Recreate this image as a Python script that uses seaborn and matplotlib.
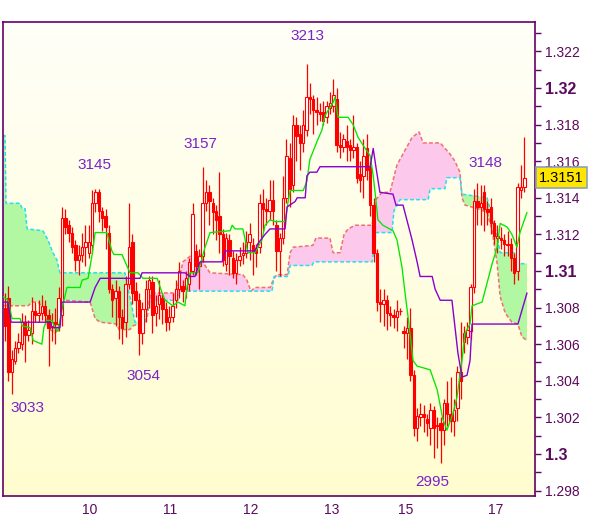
import numpy as np
import seaborn as sns
import matplotlib.pyplot as plt
from matplotlib.colors import LinearSegmentedColormap

sns.set_style("white")
plt.rcParams['font.family'] = ['Liberation Sans', 'DejaVu Sans']

# ---- hourly candles (index 0..155) -------------------------------------------
opens = [1.3080, 1.3085, 1.3045, 1.3051, 1.3058, 1.3060, 1.3072, 1.3065, 1.3066, 1.3078,
         1.3076, 1.3077, 1.3081, 1.3076, 1.3070, 1.3072, 1.3071, 1.3076, 1.3129, 1.3125,
         1.3121, 1.3114, 1.3106, 1.3109, 1.3113, 1.3110, 1.3114, 1.3137, 1.3143, 1.3133,
         1.3130, 1.3121, 1.3090, 1.3085, 1.3089, 1.3075, 1.3072, 1.3093, 1.3116, 1.3089,
         1.3084, 1.3066, 1.3079, 1.3090, 1.3094, 1.3077, 1.3082, 1.3085, 1.3079, 1.3072,
         1.3075, 1.3084, 1.3090, 1.3092, 1.3090, 1.3093, 1.3100, 1.3111, 1.3103, 1.3108,
         1.3137, 1.3143, 1.3137, 1.3133, 1.3130, 1.3120, 1.3104, 1.3117, 1.3107, 1.3099,
         1.3106, 1.3109, 1.3110, 1.3116, 1.3114, 1.3112, 1.3113, 1.3137, 1.3134, 1.3133,
         1.3139, 1.3125, 1.3111, 1.3118, 1.3140, 1.3162, 1.3147, 1.3180, 1.3175, 1.3170,
         1.3177, 1.3195, 1.3194, 1.3188, 1.3187, 1.3187, 1.3184, 1.3189, 1.3190, 1.3194,
         1.3169, 1.3168, 1.3171, 1.3169, 1.3166, 1.3168, 1.3153, 1.3152, 1.3167, 1.3157,
         1.3136, 1.3110, 1.3083, 1.3082, 1.3084, 1.3077, 1.3076, 1.3075, 1.3078, 1.3067,
         1.3066, 1.3069, 1.3043, 1.3014, 1.3020, 1.3022, 1.3019, 1.3014, 1.3024, 1.3016,
         1.3017, 1.3013, 1.3028, 1.3022, 1.3018, 1.3025, 1.3045, 1.3061, 1.3064, 1.3067,
         1.3091, 1.3138, 1.3135, 1.3143, 1.3134, 1.3135, 1.3126, 1.3118, 1.3118, 1.3117,
         1.3115, 1.3115, 1.3107, 1.3100, 1.3144, 1.3146]
highs = [1.3088, 1.3092, 1.3057, 1.3062, 1.3066, 1.3077, 1.3076, 1.3073, 1.3086, 1.3083,
         1.3084, 1.3087, 1.3084, 1.3079, 1.3077, 1.3080, 1.3091, 1.3135, 1.3134, 1.3128,
         1.3124, 1.3117, 1.3114, 1.3121, 1.3125, 1.3125, 1.3144, 1.3145, 1.3145, 1.3135,
         1.3134, 1.3125, 1.3093, 1.3095, 1.3092, 1.3079, 1.3097, 1.3137, 1.3120, 1.3094,
         1.3088, 1.3083, 1.3095, 1.3097, 1.3097, 1.3087, 1.3095, 1.3088, 1.3083, 1.3081,
         1.3088, 1.3095, 1.3105, 1.3095, 1.3100, 1.3107, 1.3137, 1.3115, 1.3112, 1.3157,
         1.3150, 1.3147, 1.3140, 1.3136, 1.3154, 1.3123, 1.3121, 1.3120, 1.3111, 1.3110,
         1.3113, 1.3116, 1.3122, 1.3126, 1.3118, 1.3115, 1.3142, 1.3145, 1.3140, 1.3150,
         1.3150, 1.3128, 1.3121, 1.3152, 1.3172, 1.3170, 1.3185, 1.3184, 1.3180, 1.3188,
         1.3213, 1.3203, 1.3196, 1.3195, 1.3192, 1.3193, 1.3193, 1.3198, 1.3205, 1.3200,
         1.3176, 1.3175, 1.3180, 1.3172, 1.3185, 1.3170, 1.3160, 1.3172, 1.3175, 1.3160,
         1.3140, 1.3112, 1.3090, 1.3090, 1.3087, 1.3081, 1.3079, 1.3084, 1.3080, 1.3070,
         1.3075, 1.3080, 1.3046, 1.3025, 1.3028, 1.3027, 1.3022, 1.3028, 1.3026, 1.3020,
         1.3020, 1.3030, 1.3040, 1.3042, 1.3030, 1.3048, 1.3072, 1.3070, 1.3072, 1.3093,
         1.3145, 1.3148, 1.3147, 1.3147, 1.3138, 1.3140, 1.3128, 1.3125, 1.3124, 1.3120,
         1.3122, 1.3118, 1.3110, 1.3148, 1.3158, 1.3173]
lows = [1.3062, 1.3040, 1.3033, 1.3049, 1.3055, 1.3057, 1.3050, 1.3062, 1.3060, 1.3072,
        1.3072, 1.3073, 1.3071, 1.3048, 1.3062, 1.3060, 1.3067, 1.3070, 1.3120, 1.3116,
        1.3110, 1.3100, 1.3098, 1.3105, 1.3103, 1.3107, 1.3110, 1.3132, 1.3127, 1.3122,
        1.3112, 1.3088, 1.3075, 1.3070, 1.3063, 1.3060, 1.3064, 1.3090, 1.3082, 1.3075,
        1.3054, 1.3060, 1.3072, 1.3080, 1.3066, 1.3070, 1.3074, 1.3071, 1.3067, 1.3068,
        1.3072, 1.3080, 1.3085, 1.3083, 1.3085, 1.3089, 1.3098, 1.3098, 1.3090, 1.3105,
        1.3133, 1.3125, 1.3120, 1.3117, 1.3110, 1.3103, 1.3100, 1.3098, 1.3096, 1.3093,
        1.3103, 1.3104, 1.3107, 1.3106, 1.3098, 1.3102, 1.3110, 1.3122, 1.3125, 1.3128,
        1.3125, 1.3100, 1.3097, 1.3115, 1.3137, 1.3135, 1.3143, 1.3160, 1.3155, 1.3165,
        1.3174, 1.3186, 1.3175, 1.3180, 1.3182, 1.3180, 1.3181, 1.3186, 1.3187, 1.3165,
        1.3162, 1.3165, 1.3160, 1.3160, 1.3162, 1.3148, 1.3143, 1.3140, 1.3150, 1.3130,
        1.3105, 1.3078, 1.3072, 1.3070, 1.3068, 1.3070, 1.3069, 1.3067, 1.3076, 1.3058,
        1.3052, 1.3040, 1.3010, 1.3007, 1.3015, 1.3012, 1.3010, 1.3005, 1.2998, 1.3003,
        1.2995, 1.3005, 1.3015, 1.3012, 1.3010, 1.3018, 1.3030, 1.3055, 1.3060, 1.3063,
        1.3088, 1.3125, 1.3125, 1.3122, 1.3125, 1.3120, 1.3115, 1.3110, 1.3112, 1.3108,
        1.3108, 1.3100, 1.3093, 1.3095, 1.3140, 1.3143]
closes = [1.3070, 1.3045, 1.3052, 1.3058, 1.3061, 1.3072, 1.3065, 1.3068, 1.3078, 1.3076,
          1.3077, 1.3081, 1.3076, 1.3069, 1.3072, 1.3071, 1.3085, 1.3129, 1.3124, 1.3121,
          1.3113, 1.3106, 1.3109, 1.3113, 1.3116, 1.3116, 1.3137, 1.3143, 1.3133, 1.3129,
          1.3124, 1.3090, 1.3084, 1.3089, 1.3075, 1.3069, 1.3093, 1.3113, 1.3088, 1.3084,
          1.3066, 1.3079, 1.3090, 1.3095, 1.3076, 1.3081, 1.3087, 1.3079, 1.3072, 1.3075,
          1.3081, 1.3090, 1.3100, 1.3089, 1.3096, 1.3105, 1.3131, 1.3103, 1.3108, 1.3137,
          1.3143, 1.3138, 1.3132, 1.3128, 1.3120, 1.3106, 1.3118, 1.3108, 1.3099, 1.3106,
          1.3108, 1.3110, 1.3116, 1.3120, 1.3111, 1.3110, 1.3137, 1.3134, 1.3133, 1.3139,
          1.3133, 1.3111, 1.3118, 1.3140, 1.3163, 1.3145, 1.3180, 1.3174, 1.3170, 1.3180,
          1.3195, 1.3194, 1.3188, 1.3187, 1.3186, 1.3182, 1.3190, 1.3192, 1.3196, 1.3169,
          1.3168, 1.3172, 1.3168, 1.3166, 1.3168, 1.3151, 1.3150, 1.3163, 1.3155, 1.3136,
          1.3110, 1.3083, 1.3082, 1.3084, 1.3077, 1.3076, 1.3075, 1.3078, 1.3078, 1.3066,
          1.3069, 1.3043, 1.3014, 1.3021, 1.3022, 1.3020, 1.3017, 1.3024, 1.3014, 1.3015,
          1.3013, 1.3028, 1.3022, 1.3018, 1.3024, 1.3045, 1.3040, 1.3066, 1.3068, 1.3091,
          1.3138, 1.3135, 1.3137, 1.3134, 1.3132, 1.3126, 1.3119, 1.3119, 1.3117, 1.3115,
          1.3114, 1.3107, 1.3099, 1.3146, 1.3146, 1.3151]

# ---- ichimoku lines (bar index, price) ---------------------------------------
tenkan_x = [-0.6, 0.9, 2.1, 4.5, 5.1, 7.5, 8.4, 11.0, 11.6, 12.5,
            14.0, 14.9, 15.8, 16.4, 17.6, 18.5, 22.4, 23.0, 24.8, 26.0,
            26.9, 30.4, 31.9, 32.5, 34.9, 37.3, 39.7, 41.2, 45.4, 46.9,
            47.8, 50.1, 51.6, 53.7, 54.3, 55.2, 57.6, 59.7, 61.2, 67.2,
            67.8, 68.7, 71.0, 72.5, 74.6, 75.5, 76.7, 77.6, 79.1, 80.6,
            83.6, 84.5, 85.1, 89.0, 90.1, 91.0, 93.4, 94.6, 95.5, 97.9,
            98.5, 99.4, 102.4, 103.9, 105.4, 107.5, 109.0, 109.9, 110.7, 111.3,
            112.8, 115.8, 117.0, 118.5, 119.4, 120.3, 121.8, 123.0, 126.9, 129.0,
            130.7, 131.9, 133.7, 134.9, 136.4, 137.3, 138.8, 139.4, 142.4, 145.4,
            146.9, 147.8, 149.9, 151.3, 152.8, 153.7, 155.8]
tenkan = [1.3086, 1.3084, 1.3074, 1.3074, 1.3070, 1.3069, 1.3062, 1.3060, 1.3069, 1.3073,
          1.3073, 1.3069, 1.3067, 1.3073, 1.3084, 1.3091, 1.3091, 1.3095, 1.3096, 1.3109,
          1.3121, 1.3121, 1.3111, 1.3109, 1.3109, 1.3099, 1.3099, 1.3096, 1.3096, 1.3088,
          1.3084, 1.3081, 1.3083, 1.3081, 1.3091, 1.3099, 1.3099, 1.3113, 1.3121, 1.3122,
          1.3125, 1.3123, 1.3123, 1.3110, 1.3110, 1.3113, 1.3117, 1.3125, 1.3128, 1.3127,
          1.3127, 1.3138, 1.3144, 1.3144, 1.3149, 1.3161, 1.3172, 1.3177, 1.3185, 1.3192,
          1.3195, 1.3184, 1.3184, 1.3180, 1.3173, 1.3167, 1.3163, 1.3152, 1.3139, 1.3128,
          1.3125, 1.3122, 1.3117, 1.3102, 1.3088, 1.3075, 1.3051, 1.3048, 1.3046, 1.3035,
          1.3019, 1.3013, 1.3022, 1.3031, 1.3051, 1.3066, 1.3071, 1.3081, 1.3083, 1.3104,
          1.3113, 1.3126, 1.3124, 1.3120, 1.3113, 1.3121, 1.3132]

kijun_x = [-0.6, 0.9, 1.8, 13.4, 14.0, 16.4, 17.0, 25.4, 26.9, 28.4,
           40.3, 40.9, 53.7, 55.2, 56.7, 58.2, 64.8, 65.7, 74.6, 75.5,
           77.6, 79.1, 83.6, 84.2, 86.6, 87.2, 89.6, 90.1, 91.0, 93.1,
           94.0, 109.0, 109.9, 110.7, 111.9, 115.8, 116.7, 118.8, 121.5, 123.0,
           123.9, 127.5, 128.4, 129.9, 133.4, 135.2, 136.4, 137.9, 138.8, 139.4,
           153.1, 155.8]
kijun = [1.3083, 1.3083, 1.3072, 1.3072, 1.3069, 1.3069, 1.3083, 1.3083, 1.3091, 1.3096,
         1.3096, 1.3099, 1.3099, 1.3097, 1.3097, 1.3105, 1.3105, 1.3111, 1.3111, 1.3115,
         1.3120, 1.3123, 1.3123, 1.3135, 1.3138, 1.3140, 1.3140, 1.3152, 1.3154, 1.3154,
         1.3157, 1.3157, 1.3167, 1.3157, 1.3143, 1.3142, 1.3136, 1.3136, 1.3117, 1.3105,
         1.3097, 1.3097, 1.3090, 1.3084, 1.3084, 1.3055, 1.3042, 1.3043, 1.3051, 1.3071,
         1.3071, 1.3088]

span_a_x = [-0.6, 6.9, 8.1, 9.9, 11.6, 12.8, 14.9, 15.8, 17.0, 17.9,
            25.4, 26.9, 28.4, 33.4, 34.0, 37.3, 38.2, 41.2, 42.4, 43.3,
            44.2, 50.7, 51.6, 53.1, 55.2, 58.2, 59.7, 61.2, 71.0, 72.2,
            73.4, 74.6, 79.1, 80.3, 81.2, 84.2, 85.1, 86.0, 91.9, 92.8,
            97.0, 97.9, 100.0, 101.2, 102.4, 104.5, 109.6, 110.7, 112.5, 114.9,
            117.0, 117.9, 119.4, 121.5, 123.6, 124.8, 129.9, 132.8, 134.3, 135.8,
            136.4, 137.3, 141.2, 143.9, 145.4, 146.9, 147.8, 149.3, 151.3, 153.1,
            154.3, 155.8]
span_a = [1.3081, 1.3081, 1.3083, 1.3083, 1.3079, 1.3069, 1.3066, 1.3068, 1.3082, 1.3084,
          1.3083, 1.3074, 1.3072, 1.3071, 1.3068, 1.3068, 1.3070, 1.3072, 1.3074, 1.3087,
          1.3088, 1.3088, 1.3092, 1.3105, 1.3108, 1.3109, 1.3103, 1.3099, 1.3098, 1.3095,
          1.3089, 1.3091, 1.3091, 1.3096, 1.3098, 1.3098, 1.3110, 1.3113, 1.3114, 1.3118,
          1.3118, 1.3110, 1.3110, 1.3120, 1.3123, 1.3125, 1.3125, 1.3139, 1.3143, 1.3143,
          1.3158, 1.3161, 1.3166, 1.3173, 1.3176, 1.3170, 1.3170, 1.3164, 1.3160, 1.3154,
          1.3140, 1.3136, 1.3134, 1.3132, 1.3122, 1.3104, 1.3086, 1.3077, 1.3072, 1.3071,
          1.3064, 1.3062]

span_b_x = [-0.6, 0.0, 0.3, 4.5, 5.1, 6.0, 6.6, 11.3, 12.8, 14.3,
            15.5, 16.4, 35.8, 38.8, 41.8, 43.3, 51.6, 52.2, 79.7, 80.3,
            84.5, 85.1, 91.6, 92.2, 109.6, 110.7, 115.5, 116.1, 117.9, 126.3,
            126.9, 131.3, 131.9, 135.8, 136.4, 143.9, 146.9, 147.8, 152.8, 153.7,
            155.8]
span_b = [1.3174, 1.3174, 1.3137, 1.3137, 1.3134, 1.3134, 1.3123, 1.3122, 1.3117, 1.3110,
          1.3106, 1.3099, 1.3099, 1.3072, 1.3072, 1.3084, 1.3084, 1.3089, 1.3089, 1.3097,
          1.3097, 1.3103, 1.3103, 1.3105, 1.3105, 1.3121, 1.3121, 1.3133, 1.3139, 1.3139,
          1.3145, 1.3145, 1.3151, 1.3151, 1.3142, 1.3140, 1.3119, 1.3110, 1.3110, 1.3104,
          1.3104]

# ---- axis labels and annotations ---------------------------------------------
day_pos = [25.4, 49.3, 73.4, 97.6, 119.7, 146.6]
day_labels = ['10', '11', '12', '13', '15', '17']

price_ticks = [1.298, 1.300, 1.302, 1.304, 1.306, 1.308, 1.310,
               1.312, 1.314, 1.316, 1.318, 1.320, 1.322]
price_labels = ['1.298', '1.3', '1.302', '1.304', '1.306', '1.308', '1.31',
                '1.312', '1.314', '1.316', '1.318', '1.32', '1.322']
bold_labels = ['1.3', '1.31', '1.32']
minor_ticks = [1.299, 1.301, 1.303, 1.305, 1.307, 1.309, 1.311,
               1.313, 1.315, 1.317, 1.319, 1.321, 1.323]

note_text = ['3033', '3054', '3145', '3157', '3213', '3148', '2995']
note_x = [6.6, 41.2, 26.6, 58.2, 90.4, 143.3, 127.5]
note_y = [1.30250, 1.30426, 1.31579, 1.31694, 1.32284, 1.31590, 1.29847]

last_price = 1.3151

# ---- colours -------------------------------------------------------------------
red = '#ff0000'
axis_purple = '#660066'
label_purple = '#5c0a5c'
note_purple = '#7b22c8'
green_fill = '#b2f7a2'
pink_fill = '#fcc8ec'

xmin, xmax = -0.6, 158.2
ymin, ymax = 1.29770, 1.32361

fig = plt.figure(figsize=(6.0, 5.19), dpi=100)
fig.patch.set_facecolor('white')
ax = fig.add_axes([0.005, 0.0443, 0.8867, 0.9133])

# background gradient
grad = np.linspace(0, 1, 256).reshape(-1, 1)
cmap = LinearSegmentedColormap.from_list('bg', ['#fffdcf', '#fffff8'])
ax.imshow(grad, extent=(xmin, xmax, ymin, ymax), origin='lower',
          aspect='auto', cmap=cmap, zorder=0)

# cloud
xs = np.union1d(span_a_x, span_b_x)
a = np.interp(xs, span_a_x, span_a)
b = np.interp(xs, span_b_x, span_b)
ax.fill_between(xs, a, b, where=a >= b, interpolate=True, color=pink_fill, lw=0, zorder=1)
ax.fill_between(xs, a, b, where=b >= a, interpolate=True, color=green_fill, lw=0, zorder=1)
sns.lineplot(x=span_a_x, y=span_a, ax=ax, color='#f07070', lw=1.1, dashes=False,
             linestyle=(0, (2.5, 1.5)), estimator=None, sort=False, legend=False, zorder=2)
sns.lineplot(x=span_b_x, y=span_b, ax=ax, color='#22e0ee', lw=1.1, dashes=False,
             linestyle=(0, (2.5, 1.5)), estimator=None, sort=False, legend=False, zorder=2)

# candles
o = np.array(opens)
c = np.array(closes)
idx = np.arange(len(o))
ax.vlines(idx, lows, highs, color=red, lw=0.9, zorder=3)
body_col = np.where(c >= o, 'white', red)
ax.bar(idx, np.maximum(np.abs(c - o), 0.00004), bottom=np.minimum(o, c), width=0.72,
       color=body_col, edgecolor=red, lw=0.8, zorder=4)

# tenkan / kijun
sns.lineplot(x=tenkan_x, y=tenkan, ax=ax, color='#00e800', lw=0.95,
             estimator=None, sort=False, legend=False, zorder=5)
sns.lineplot(x=kijun_x, y=kijun, ax=ax, color='#8a00d0', lw=1.0,
             estimator=None, sort=False, legend=False, zorder=5)

# high / low notes
for t, nx, ny in zip(note_text, note_x, note_y):
    ax.text(nx, ny, t, color=note_purple, fontsize=11, ha='center', va='center', zorder=6)

ax.set_xlim(xmin, xmax)
ax.set_ylim(ymin, ymax)

# axes styling
for s in ax.spines.values():
    s.set_color(axis_purple)
    s.set_linewidth(1.2)
ax.yaxis.tick_right()
ax.set_yticks(price_ticks)
ax.set_yticklabels(price_labels)
ax.set_yticks(minor_ticks, minor=True)
ax.tick_params(axis='y', which='both', direction='out', length=4, width=1,
               color=axis_purple, labelcolor=label_purple, labelsize=10, pad=3)
for lab in ax.get_yticklabels():
    if lab.get_text() in bold_labels:
        lab.set_fontweight('bold')
        lab.set_fontsize(11.5)
ax.set_xticks(day_pos)
ax.set_xticklabels(day_labels)
ax.tick_params(axis='x', direction='out', length=4, width=1, color='#9aaabb',
               labelcolor=label_purple, labelsize=10, pad=1)

# last price tag
ax.text(1.007, last_price, f'{last_price:.4f}', transform=ax.get_yaxis_transform(),
        ha='left', va='center', fontsize=10.5, color='black', clip_on=False, zorder=7,
        bbox=dict(boxstyle='square,pad=0.22', fc='#ffe600', ec='#8ea2b8', lw=1.2))

fig.savefig('out.png', dpi=100)
